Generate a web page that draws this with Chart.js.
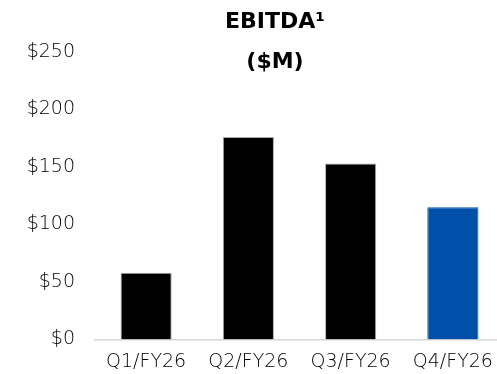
<!DOCTYPE html>
<html>
<head>
<meta charset="utf-8">
<script src="https://cdn.jsdelivr.net/npm/chart.js@4"></script>
<style>
  html, body { margin: 0; padding: 0; background: #fff; overflow: hidden; }
  #wrap { width: 497px; height: 374px; overflow: hidden; }
</style>
</head>
<body>
<div id="wrap">
  <canvas id="chartEbitda" width="540" height="374"></canvas>
</div>
<script>
const quarters = ['Q1/FY26', 'Q2/FY26', 'Q3/FY26', 'Q4/FY26'];
const ebitdaValues = [58, 176, 153, 115];
const barColors = ['#000000', '#000000', '#000000', '#0050aa'];
const edgeColors = ['#a8a8a8', '#a8a8a8', '#a8a8a8', '#0050aa'];
const yTicks = [0, 50, 100, 150, 200, 250];
const titleLines = ['EBITDA\u00b9', '($M)'];

document.addEventListener("DOMContentLoaded", function () {
  const ctx = document.getElementById('chartEbitda').getContext('2d');
  const fontFamily = '"DejaVu Sans", sans-serif';

  // the slide title sits a bit right of the canvas centre
  const titleShift = {
    id: 'titleShift',
    afterLayout(chart) {
      if (chart.titleBlock) {
        chart.titleBlock.left += 10;
        chart.titleBlock.right += 10;
      }
    }
  };

  new Chart(ctx, {
    type: 'bar',
    data: {
      labels: quarters,
      datasets: [{
        data: ebitdaValues,
        backgroundColor: barColors,
        borderColor: edgeColors,
        borderWidth: 1,
        categoryPercentage: 1,
        barPercentage: 0.5
      }]
    },
    plugins: [titleShift],
    options: {
      responsive: false,
      animation: false,
      layout: { padding: { left: 26, right: 36, top: 0, bottom: 0 } },
      plugins: {
        legend: { display: false },
        tooltip: { enabled: false },
        title: {
          display: true,
          text: titleLines,
          color: '#000',
          font: { family: fontFamily, size: 22, weight: 'bold', lineHeight: 40 / 22 },
          padding: { top: 2, bottom: -30 }
        }
      },
      scales: {
        x: {
          afterFit: scale => { scale.height = 34.5; },
          grid: { display: false, drawTicks: false },
          border: { display: true, color: '#d6d6d6', width: 1.5 },
          ticks: {
            color: '#000',
            padding: 11,
            maxRotation: 0,
            font: { family: fontFamily, size: 19, weight: '300' }
          }
        },
        y: {
          min: 0,
          max: 250,
          afterFit: scale => { scale.width = 69; },
          afterBuildTicks: scale => {
            scale.ticks = yTicks.map(v => ({ value: v }));
          },
          grid: { display: false, drawTicks: false },
          border: { display: false },
          ticks: {
            color: '#000',
            padding: 20,
            font: { family: fontFamily, size: 19, weight: '300' },
            callback: value => '$' + value
          }
        }
      }
    }
  });
});
</script>
</body>
</html>
